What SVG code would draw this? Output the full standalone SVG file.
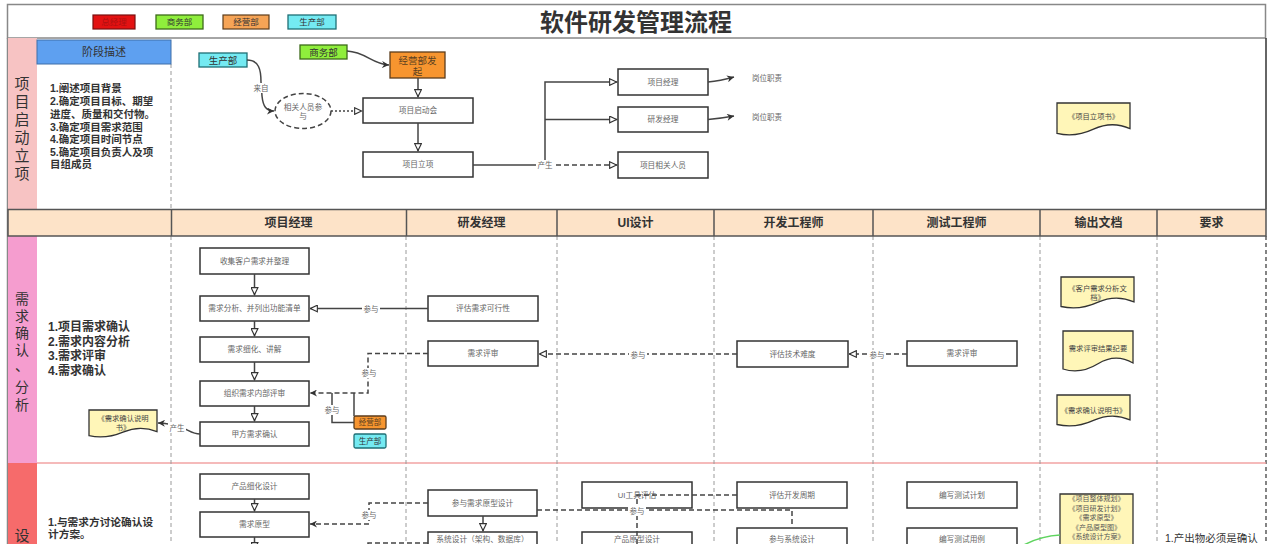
<svg xmlns="http://www.w3.org/2000/svg" width="1280" height="544" viewBox="0 0 1280 544">
<style>
text{font-family:"Liberation Sans","Noto Sans CJK SC",sans-serif;dominant-baseline:central;text-anchor:middle;fill:#333}
.t{font-size:7.7px;fill:#666}
.lb{font-size:7.5px;fill:#666}
.box{fill:#fff;stroke:#333;stroke-width:1.5}
.doc{fill:#fff6b8;stroke:#333;stroke-width:1.3}
.dt{font-size:7.3px;fill:#444}
.lane{stroke:#9a9a9a;stroke-width:1;stroke-dasharray:4,3;fill:none}
.c{fill:none;stroke:#444;stroke-width:1.5}
.d{stroke-dasharray:5,3}
.bg{fill:#fff}
.hd{font-size:12px;font-weight:bold}
.vt{font-size:15px;fill:#333}
.desc{font-weight:bold;text-anchor:start}
.org{fill:#f7952f;stroke:#5c3d1c;stroke-width:1.3}
.cyn{fill:#74eaf2;stroke:#1f6f75;stroke-width:1.3}
.grn{fill:#8fee3c;stroke:#3d6b1a;stroke-width:1.3}
</style>
<defs>
<marker id="tri" viewBox="0 0 10 10" refX="10" refY="5" markerWidth="9" markerHeight="8" orient="auto" markerUnits="userSpaceOnUse"><path d="M0.8,0.8 L9.5,5 L0.8,9.2 Z" fill="#fff" stroke="#333" stroke-width="1.4"/></marker>
<marker id="arr" viewBox="0 0 10 10" refX="10" refY="5" markerWidth="8" markerHeight="7" orient="auto" markerUnits="userSpaceOnUse"><path d="M0,0 L10,5 L0,10 L3,5 Z" fill="#333"/></marker>
</defs>
<rect width="1280" height="544" fill="#fff"/>
<!-- frame and lanes -->
<g id="frame">
<rect x="7.5" y="4.5" width="1258" height="33.5" fill="#fff" stroke="#888" stroke-width="1.5"/>
<line x1="7.5" y1="38" x2="7.5" y2="544" stroke="#888" stroke-width="1.5"/>
<line x1="1266" y1="38" x2="1266" y2="209" stroke="#333" stroke-width="1.5"/>
<line x1="1266" y1="236" x2="1266" y2="544" stroke="#333" stroke-width="1.2" stroke-dasharray="4,3"/>
<rect x="8" y="38" width="29" height="171" fill="#f7c3c3"/>
<rect x="8" y="236" width="29" height="227" fill="#f59dcf"/>
<rect x="8" y="463" width="29" height="81" fill="#f66b6b"/>
<line x1="37" y1="463" x2="1266" y2="463" stroke="#f2a3a3" stroke-width="1.6"/>
<line class="lane" x1="171" y1="64" x2="171" y2="209"/>
<line class="lane" x1="171" y1="236" x2="171" y2="544"/>
<line class="lane" x1="406" y1="236" x2="406" y2="544"/>
<line class="lane" x1="557" y1="236" x2="557" y2="544"/>
<line class="lane" x1="714" y1="236" x2="714" y2="544"/>
<line class="lane" x1="873" y1="236" x2="873" y2="544"/>
<line class="lane" x1="1040" y1="236" x2="1040" y2="544"/>
<line class="lane" x1="1157" y1="236" x2="1157" y2="544"/>
<rect x="8" y="209.5" width="1258" height="26.5" fill="#fde3c8" stroke="#555" stroke-width="1.5"/>
<g stroke="#555" stroke-width="1.5">
<line x1="171.5" y1="209.5" x2="171.5" y2="236"/>
<line x1="406.5" y1="209.5" x2="406.5" y2="236"/>
<line x1="557" y1="209.5" x2="557" y2="236"/>
<line x1="714" y1="209.5" x2="714" y2="236"/>
<line x1="873" y1="209.5" x2="873" y2="236"/>
<line x1="1040" y1="209.5" x2="1040" y2="236"/>
<line x1="1157" y1="209.5" x2="1157" y2="236"/>
</g>
<text class="hd" x="288.5" y="223">项目经理</text>
<text class="hd" x="481.5" y="223">研发经理</text>
<text class="hd" x="635.5" y="223">UI设计</text>
<text class="hd" x="793.5" y="223">开发工程师</text>
<text class="hd" x="956.5" y="223">测试工程师</text>
<text class="hd" x="1098.5" y="223">输出文档</text>
<text class="hd" x="1211.5" y="223">要求</text>
</g>
<g id="title"><text x="636" y="22" style="font-size:24px;font-weight:bold">软件研发管理流程</text></g>
<g id="legend">
<rect x="93" y="15" width="42" height="14" fill="#e31212" stroke="#7a1010" stroke-width="1.2"/><text x="114" y="22" style="font-size:8.5px;fill:#b01010">总经理</text>
<rect class="grn" x="156" y="15" width="47" height="14"/><text x="179.5" y="22" style="font-size:8.5px">商务部</text>
<rect x="223" y="15" width="46" height="14" fill="#f6a456" stroke="#5c3d1c" stroke-width="1.2"/><text x="246" y="22" style="font-size:8.5px">经营部</text>
<rect class="cyn" x="288" y="15" width="48" height="14"/><text x="312" y="22" style="font-size:8.5px">生产部</text>
</g>
<!-- section titles -->
<g id="stage1">
<text class="vt"><tspan x="22" y="83">项</tspan><tspan x="22" y="101">目</tspan><tspan x="22" y="119">启</tspan><tspan x="22" y="137">动</tspan><tspan x="22" y="155">立</tspan><tspan x="22" y="173">项</tspan></text>
<rect x="37" y="40" width="134" height="24" fill="#5ea0f0" stroke="#3f6fa8" stroke-width="1"/>
<text x="104" y="52" style="font-size:11px">阶段描述</text>
<text class="desc" style="font-size:10.5px"><tspan x="50" y="88">1.阐述项目背景</tspan><tspan x="50" y="101">2.确定项目目标、期望</tspan><tspan x="50" y="114">进度、质量和交付物。</tspan><tspan x="50" y="126.5">3.确定项目需求范围</tspan><tspan x="50" y="139">4.确定项目时间节点</tspan><tspan x="50" y="151.5">5.确定项目负责人及项</tspan><tspan x="50" y="164">目组成员</tspan></text>
</g>
<g id="stage2">
<text style="font-size:14px"><tspan x="22" y="299">需</tspan><tspan x="22" y="316">求</tspan><tspan x="22" y="333">确</tspan><tspan x="22" y="350">认</tspan><tspan x="22" y="366">、</tspan><tspan x="22" y="387">分</tspan><tspan x="22" y="405">析</tspan></text>
<text class="desc" style="font-size:12px"><tspan x="48" y="327">1.项目需求确认</tspan><tspan x="48" y="341.5">2.需求内容分析</tspan><tspan x="48" y="356">3.需求评审</tspan><tspan x="48" y="370.5">4.需求确认</tspan></text>
</g>
<g id="stage3">
<text x="22" y="535" style="font-size:15px">设</text>
<text class="desc" style="font-size:10.7px"><tspan x="48" y="522">1.与需求方讨论确认设</tspan><tspan x="48" y="534">计方案。</tspan></text>
</g>
<!-- nodes: stage 1 -->
<g id="n_scb1"><rect class="cyn" x="199" y="53" width="48" height="14"/><text x="223" y="60" style="font-size:9.5px">生产部</text></g>
<g id="n_swb1"><rect class="grn" x="300" y="45" width="47" height="14"/><text x="323.5" y="52" style="font-size:9.5px">商务部</text></g>
<g id="n_jyfq"><rect class="org" x="390" y="52" width="55" height="26"/><text style="font-size:9.5px;fill:#5a4020"><tspan x="417.5" y="60">经营部发</tspan><tspan x="417.5" y="71">起</tspan></text></g>
<g id="n_xgry"><ellipse cx="303" cy="111" rx="28" ry="17.5" fill="#fff" stroke="#444" stroke-width="1.5" stroke-dasharray="5,3"/><text class="t"><tspan x="303" y="107">相关人员参</tspan><tspan x="303" y="116">与</tspan></text></g>
<g id="n_qdh"><rect class="box" x="363" y="98" width="110" height="25"/><text class="t" x="418" y="110.5">项目启动会</text></g>
<g id="n_lx"><rect class="box" x="363" y="152" width="110" height="25"/><text class="t" x="418" y="164.5">项目立项</text></g>
<g id="n_xmjl"><rect class="box" x="618" y="69" width="90" height="26"/><text class="t" x="663" y="82">项目经理</text></g>
<g id="n_yfjl"><rect class="box" x="618" y="107" width="90" height="25"/><text class="t" x="663" y="119.5">研发经理</text></g>
<g id="n_xgry2"><rect class="box" x="618" y="152" width="90" height="26"/><text class="t" x="663" y="165">项目相关人员</text></g>
<g id="n_gw1"><text class="lb" x="767" y="78">岗位职责</text></g>
<g id="n_gw2"><text class="lb" x="767" y="117">岗位职责</text></g>
<g id="n_lxs"><path class="doc" d="M1057,103 H1130 V128.6 Q1111.8,120.6 1093.5,129.2 T1057,133.4 Z"/><text class="dt" x="1093.5" y="116">《项目立项书》</text></g>
<!-- nodes: stage 2 -->
<g id="n_sj"><rect class="box" x="200" y="248" width="109" height="26"/><text class="t" x="254.5" y="261">收集客户需求并整理</text></g>
<g id="n_fx"><rect class="box" x="200" y="296" width="109" height="25"/><text class="t" x="254.5" y="308.5">需求分析、并列出功能清单</text></g>
<g id="n_xh"><rect class="box" x="200" y="337" width="109" height="25"/><text class="t" x="254.5" y="349.5">需求细化、讲解</text></g>
<g id="n_ps"><rect class="box" x="200" y="381" width="109" height="25"/><text class="t" x="254.5" y="393.5">组织需求内部评审</text></g>
<g id="n_jf"><rect class="box" x="200" y="422" width="109" height="24"/><text class="t" x="254.5" y="434">甲方需求确认</text></g>
<g id="n_kx"><rect class="box" x="428" y="296" width="110" height="25"/><text class="t" x="483" y="308.5">评估需求可行性</text></g>
<g id="n_ps2"><rect class="box" x="428" y="341" width="110" height="25"/><text class="t" x="483" y="353.5">需求评审</text></g>
<g id="n_jsnd"><rect class="box" x="737" y="341" width="111" height="26"/><text class="t" x="792.5" y="354">评估技术难度</text></g>
<g id="n_ps3"><rect class="box" x="907" y="341" width="110" height="25"/><text class="t" x="962" y="353.5">需求评审</text></g>
<g id="n_jyb2"><rect class="org" x="354" y="416" width="32" height="13" rx="1.5"/><text x="370" y="422.5" style="font-size:7.5px;fill:#5a4020">经营部</text></g>
<g id="n_scb2"><rect class="cyn" x="354" y="434" width="32" height="14" rx="1.5"/><text x="370" y="441" style="font-size:7.5px">生产部</text></g>
<g id="n_qrsm1"><path class="doc" d="M89,410 H157 V431.6 Q140,424.9 123,432.1 T89,435.7 Z"/><text class="dt"><tspan x="123" y="418">《需求确认说明</tspan><tspan x="123" y="427">书》</tspan></text></g>
<g id="n_khfx"><path class="doc" d="M1061,277 H1134 V301.8 Q1115.8,294 1097.5,302.4 T1061,306.5 Z"/><text class="dt"><tspan x="1097.5" y="288">《客户需求分析文</tspan><tspan x="1097.5" y="297">档》</tspan></text></g>
<g id="n_jy"><path class="doc" d="M1063,331 H1133 V363 Q1115.5,353 1098,363.8 T1063,369 Z"/><text class="dt" x="1098" y="348">需求评审结果纪要</text></g>
<g id="n_qrsm2"><path class="doc" d="M1057,395 H1130 V419.8 Q1111.8,412 1093.5,420.4 T1057,424.5 Z"/><text class="dt" x="1093.5" y="410">《需求确认说明书》</text></g>
<!-- nodes: stage 3 -->
<g id="n_cpxh"><rect class="box" x="200" y="474" width="109" height="25"/><text class="t" x="254.5" y="486.5">产品细化设计</text></g>
<g id="n_xqyx"><rect class="box" x="200" y="512" width="109" height="25"/><text class="t" x="254.5" y="524.5">需求原型</text></g>
<g id="n_cyyx"><rect class="box" x="428" y="490" width="109" height="26"/><text class="t" x="482.5" y="503">参与需求原型设计</text></g>
<g id="n_xtsj"><rect class="box" x="428" y="532" width="109" height="26"/><text class="t" x="482.5" y="539">系统设计（架构、数据库）</text></g>
<g id="n_uigj"><rect class="box" x="582" y="482" width="110" height="26"/><text class="t" x="637" y="495">UI工具评估</text></g>
<g id="n_cpyx"><rect class="box" x="582" y="532" width="110" height="26"/><text class="t" x="637" y="539">产品原型设计</text></g>
<g id="n_kfzq"><rect class="box" x="737" y="482" width="110" height="26"/><text class="t" x="792" y="495">评估开发周期</text></g>
<g id="n_cyxt"><rect class="box" x="737" y="528" width="110" height="26"/><text class="t" x="792" y="539.5">参与系统设计</text></g>
<g id="n_csjh"><rect class="box" x="907" y="482" width="110" height="26"/><text class="t" x="962" y="495">编写测试计划</text></g>
<g id="n_csyl"><rect class="box" x="907" y="528" width="110" height="26"/><text class="t" x="962" y="539.5">编写测试用例</text></g>
<g id="n_docs3"><path class="doc" d="M1060,494 H1133 V560 H1060 Z"/>
<text style="font-size:7px;fill:#555"><tspan x="1096.5" y="498">《项目整体规划》</tspan><tspan x="1096.5" y="507.5">《项目研发计划》</tspan><tspan x="1096.5" y="517">《需求原型》</tspan><tspan x="1096.5" y="526.5">《产品原型图》</tspan><tspan x="1096.5" y="536">《系统设计方案》</tspan></text></g>
<g id="n_req"><text x="1165" y="538" style="font-size:10.5px;text-anchor:start">1.产出物必须是确认</text></g>
<!-- connectors -->
<g id="connectors">
<path class="c" d="M347,51 C366,52 372,64 389,65" marker-end="url(#arr)"/>
<path class="c" d="M247,60 C259,60 261,70 261,82 L262,96 C263,106 266,111 274,111" marker-end="url(#arr)"/>
<path class="c" d="M331,111 H362" stroke-dasharray="2,2" marker-end="url(#tri)"/>
<path class="c" d="M418,78 V97" marker-end="url(#tri)"/>
<path class="c" d="M418,123 V151" marker-end="url(#tri)"/>
<path class="c" d="M473,165 H545"/>
<path class="c" d="M545,160 V82 H617" marker-end="url(#tri)"/>
<path class="c" d="M545,119.5 H617" marker-end="url(#tri)"/>
<path class="c d" d="M556,165 H617" marker-end="url(#tri)"/>
<path class="c" d="M708,82 Q720,81 734,77" marker-end="url(#arr)"/>
<path class="c" d="M708,119.5 Q720,118.5 734,116" marker-end="url(#arr)"/>
<path class="c" d="M254.5,274 V295" marker-end="url(#tri)"/>
<path class="c" d="M254.5,321 V336" marker-end="url(#tri)"/>
<path class="c" d="M254.5,362 V380" marker-end="url(#tri)"/>
<path class="c" d="M254.5,406 V421" marker-end="url(#tri)"/>
<path class="c" d="M428,308.5 H310" marker-end="url(#tri)"/>
<path class="c d" d="M428,353.5 H368 V393 H310" marker-end="url(#arr)"/>
<path class="c" d="M354,422.5 H332 V393"/>
<path class="c" d="M354,416 V393"/>
<path class="c" d="M200,434 C188,434 186,424 158,423" marker-end="url(#arr)"/>
<path class="c d" d="M737,354 H539" marker-end="url(#tri)"/>
<path class="c d" d="M907,354 H849" marker-end="url(#tri)"/>
<path class="c" d="M254.5,499 V511" marker-end="url(#tri)"/>
<path class="c" d="M254.5,537 V550" marker-end="url(#tri)"/>
<path class="c d" d="M428,503 H369 V524 H310" marker-end="url(#arr)"/>
<path class="c" d="M483,516 V531" marker-end="url(#tri)"/>
<path class="c d" d="M537,510 H792 V527"/>
<path class="c d" d="M737,495 H637 V560"/>
<path class="c d" d="M428,543 H368 V560"/>
<path d="M1022,546 Q1040,536 1060,535" fill="none" stroke="#5fd45f" stroke-width="1.6"/>
<rect class="bg" x="253" y="83" width="16" height="10"/><text class="lb" x="261" y="88">来自</text>
<rect class="bg" x="536" y="160" width="18" height="10"/><text class="lb" x="545" y="165">产生</text>
<rect class="bg" x="362" y="304" width="18" height="10"/><text class="lb" x="371" y="309">参与</text>
<rect class="bg" x="360" y="368" width="18" height="10"/><text class="lb" x="369" y="373">参与</text>
<rect class="bg" x="323" y="405" width="18" height="10"/><text class="lb" x="332" y="410">参与</text>
<rect class="bg" x="168" y="423" width="18" height="10"/><text class="lb" x="177" y="428">产生</text>
<rect class="bg" x="629" y="350" width="18" height="10"/><text class="lb" x="638" y="355">参与</text>
<rect class="bg" x="868" y="350" width="18" height="10"/><text class="lb" x="877" y="355">参与</text>
<rect class="bg" x="360" y="510" width="18" height="10"/><text class="lb" x="369" y="515">参与</text>
<rect class="bg" x="628" y="506" width="18" height="10"/><text class="lb" x="637" y="511">参与</text>
</g>
</svg>
